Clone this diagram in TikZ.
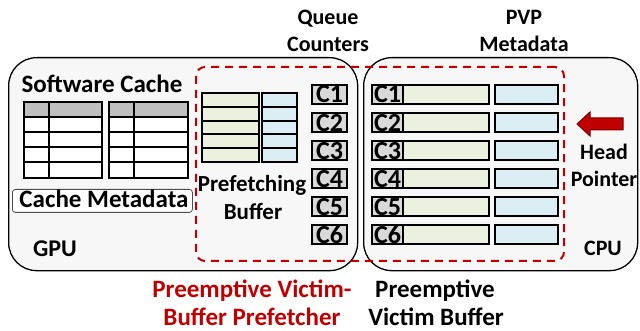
\documentclass[tikz,border=0pt]{standalone}
\usepackage{fontspec}
\setmainfont{Carlito}
\definecolor{boxgray}{HTML}{F7F7F7}
\definecolor{ctrgray}{HTML}{D9D9D9}
\definecolor{hdrgray}{HTML}{BFBFBF}
\definecolor{grn}{HTML}{EBF1DE}
\definecolor{blu}{HTML}{DAEEF3}
\definecolor{pvred}{HTML}{C00000}
\definecolor{darkred}{HTML}{800000}
\begin{document}
\begin{tikzpicture}[x=1pt,y=-1pt,
  font=\fontsize{22}{27}\selectfont\bfseries,
  lbl/.style={inner sep=0pt, anchor=base, align=center},
  biglbl/.style={lbl, font=\fontsize{25}{30}\selectfont\bfseries},
  bigbox/.style={draw=black, line width=1.3pt, fill=boxgray, rounded corners=28pt, anchor=north west, inner sep=0pt},
  dashbox/.style={draw=pvred, line width=2pt, dash pattern=on 8pt off 6pt, rounded corners=9pt, anchor=north west, inner sep=0pt},
  ctr/.style={draw=black, line width=2pt, fill=ctrgray, minimum height=19pt, inner sep=0pt, font=\fontsize{26}{26}\selectfont\bfseries},
  bar/.style={draw=black, line width=2pt, minimum height=19pt, inner sep=0pt},
  cell/.style={draw=black, line width=2pt},
]
\useasboundingbox (0,0) rectangle (640,331);
% main boxes
\node[bigbox, minimum width=349pt, minimum height=213pt] (gpu) at (8,57) {};
\node[bigbox, minimum width=274pt, minimum height=213pt] (cpu) at (363,57) {};
\node[dashbox, minimum width=368pt, minimum height=194pt] (pvbp) at (195,66) {};

% software cache
\node[biglbl] (swc) at (102,93) {Software Cache};
\foreach \xa/\xb/\xc in {24/49/102, 109/134/188}{
  \draw[cell, fill=hdrgray] (\xa,102) rectangle (\xc,117);
  \draw[cell, fill=white] (\xa,117) rectangle (\xc,178);
  \foreach \yy in {132,147,162}{ \draw[cell] (\xa,\yy) -- (\xc,\yy); }
  \draw[cell] (\xb,102) -- (\xb,178);
}
\node[draw=black!70, line width=0.8pt, fill=white, rounded corners=3pt, minimum width=180pt, minimum height=23pt, inner sep=0pt, anchor=north west] (cmbox) at (12,189) {};
\node[biglbl] (cm) at (104,208) {Cache Metadata};
\node[lbl, font=\fontsize{24}{28}\selectfont\bfseries] (gpul) at (55,257) {GPU};

% prefetching buffer
\foreach \k in {0,...,4}{
  \draw[cell, fill=grn] (202,{93+13.8*\k}) rectangle (259,{93+13.8*(\k+1)});
  \draw[cell, fill=blu] (262,{93+13.8*\k}) rectangle (297,{93+13.8*(\k+1)});
}
\node[lbl, font=\fontsize{23}{27}\selectfont\bfseries] (pf1) at (252,192) {Prefetching};
\node[lbl, font=\fontsize{23}{27}\selectfont\bfseries] (pf2) at (253,220) {Buffer};

% counters and PVB rows
\foreach \i in {1,...,6}{
  \pgfmathsetmacro{\yc}{94.5+28.1*(\i-1)}
  \node[ctr, minimum width=35pt] (g\i) at (329.5,\yc) {C\i};
  \node[bar, fill=grn, minimum width=86pt] (gr\i) at (446,\yc) {};
  \node[bar, fill=blu, minimum width=63pt] (bl\i) at (526.5,\yc) {};
  \node[ctr, minimum width=31pt] (c\i) at (387.5,\yc) {C\i};
}

% head pointer arrow
\draw[fill=pvred, draw=darkred, line width=1pt] (577,124) -- (590,112) -- (590,118) -- (623,118) -- (623,130) -- (590,130) -- (590,136) -- cycle;
\node[lbl] (head) at (604,160) {Head};
\node[lbl] (ptr) at (604,187) {Pointer};
\node[lbl] (cpul) at (603,255) {CPU};

% top labels
\node[lbl] (qc1) at (328,25) {Queue};
\node[lbl] (qc2) at (328,52) {Counters};
\node[lbl] (pvp1) at (524,25) {PVP};
\node[lbl] (pvp2) at (524,52) {Metadata};

% bottom labels
\node[biglbl, text=pvred] (pre1) at (252,297) {Preemptive Victim-};
\node[biglbl, text=pvred] (pre2) at (252,325) {Buffer Prefetcher};
\node[biglbl] (pvb1) at (435,297) {Preemptive};
\node[biglbl] (pvb2) at (436,325) {Victim Buffer};
\end{tikzpicture}
\end{document}
